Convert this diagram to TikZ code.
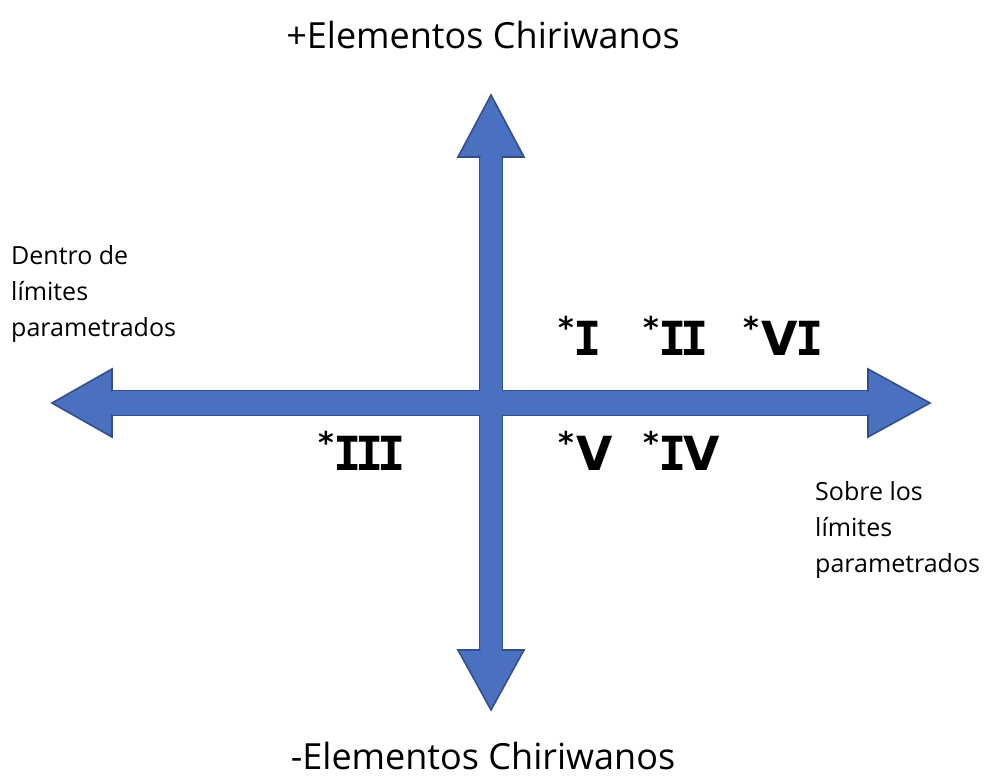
\documentclass[tikz,border=0pt]{standalone}
\usepackage{fontspec}
\setmainfont{Open Sans}
\newfontfamily\numfont{DejaVu Sans}
\newfontfamily\numIfont{DejaVu Sans Mono}
\definecolor{arrowfill}{RGB}{74,112,192}
\definecolor{arrowline}{RGB}{52,78,140}
\newcommand\rnstar{\raisebox{17pt}{\fontsize{30}{30}\selectfont *}\kern3pt}
\newcommand\rnI{\makebox[0.47em]{\numIfont\bfseries I}}
\newcommand\rnV{V}
\tikzset{
  axislabel/.style={font=\fontsize{36}{36}\selectfont, inner sep=0pt},
  sidelabel/.style={font=\fontsize{25}{36}\selectfont, align=left, inner sep=0pt, anchor=north west},
  numeral/.style={font=\numfont\bfseries\fontsize{47}{47}\selectfont, inner sep=0pt, anchor=base west},
  arrowshape/.style={fill=arrowfill, draw=arrowline, line width=1.6pt, line join=miter},
}
\begin{document}
\begin{tikzpicture}[x=1pt,y=-1pt]
\useasboundingbox (0,0) rectangle (991,778);
\coordinate (O) at (491,403);
% outlines
\draw[arrowshape] (52,403) -- (112,369) -- (112,391) -- (868,391) -- (868,369) -- (930,403)
  -- (868,437) -- (868,415) -- (112,415) -- (112,437) -- cycle;
\draw[arrowshape] (491,95) -- (524,157) -- (502,157) -- (502,650) -- (524,650) -- (491,710)
  -- (458,650) -- (480,650) -- (480,157) -- (458,157) -- cycle;
% fill union
\fill[arrowfill] (112,391) rectangle (868,415);
\fill[arrowfill] (480,157) rectangle (502,650);
% labels
\node[axislabel] (top) at (483,35) {+Elementos Chiriwanos};
\node[axislabel] (bottom) at (483,756) {-Elementos Chiriwanos};
\node[sidelabel] (left) at (11,245) {Dentro de\\límites\\parametrados};
\node[sidelabel] (right) at (815,481) {Sobre los\\límites\\parametrados};
% numerals
\node[numeral] (n1) at (558,355) {\rnstar\rnI};
\node[numeral] (n2) at (643,355) {\rnstar\rnI\rnI};
\node[numeral] (n6) at (743,355) {\rnstar\rnV\rnI};
\node[numeral] (n3) at (318,470) {\rnstar\rnI\rnI\rnI};
\node[numeral] (n5) at (558,470) {\rnstar\rnV};
\node[numeral] (n4) at (643,470) {\rnstar\rnI\rnV};
\end{tikzpicture}
\end{document}
